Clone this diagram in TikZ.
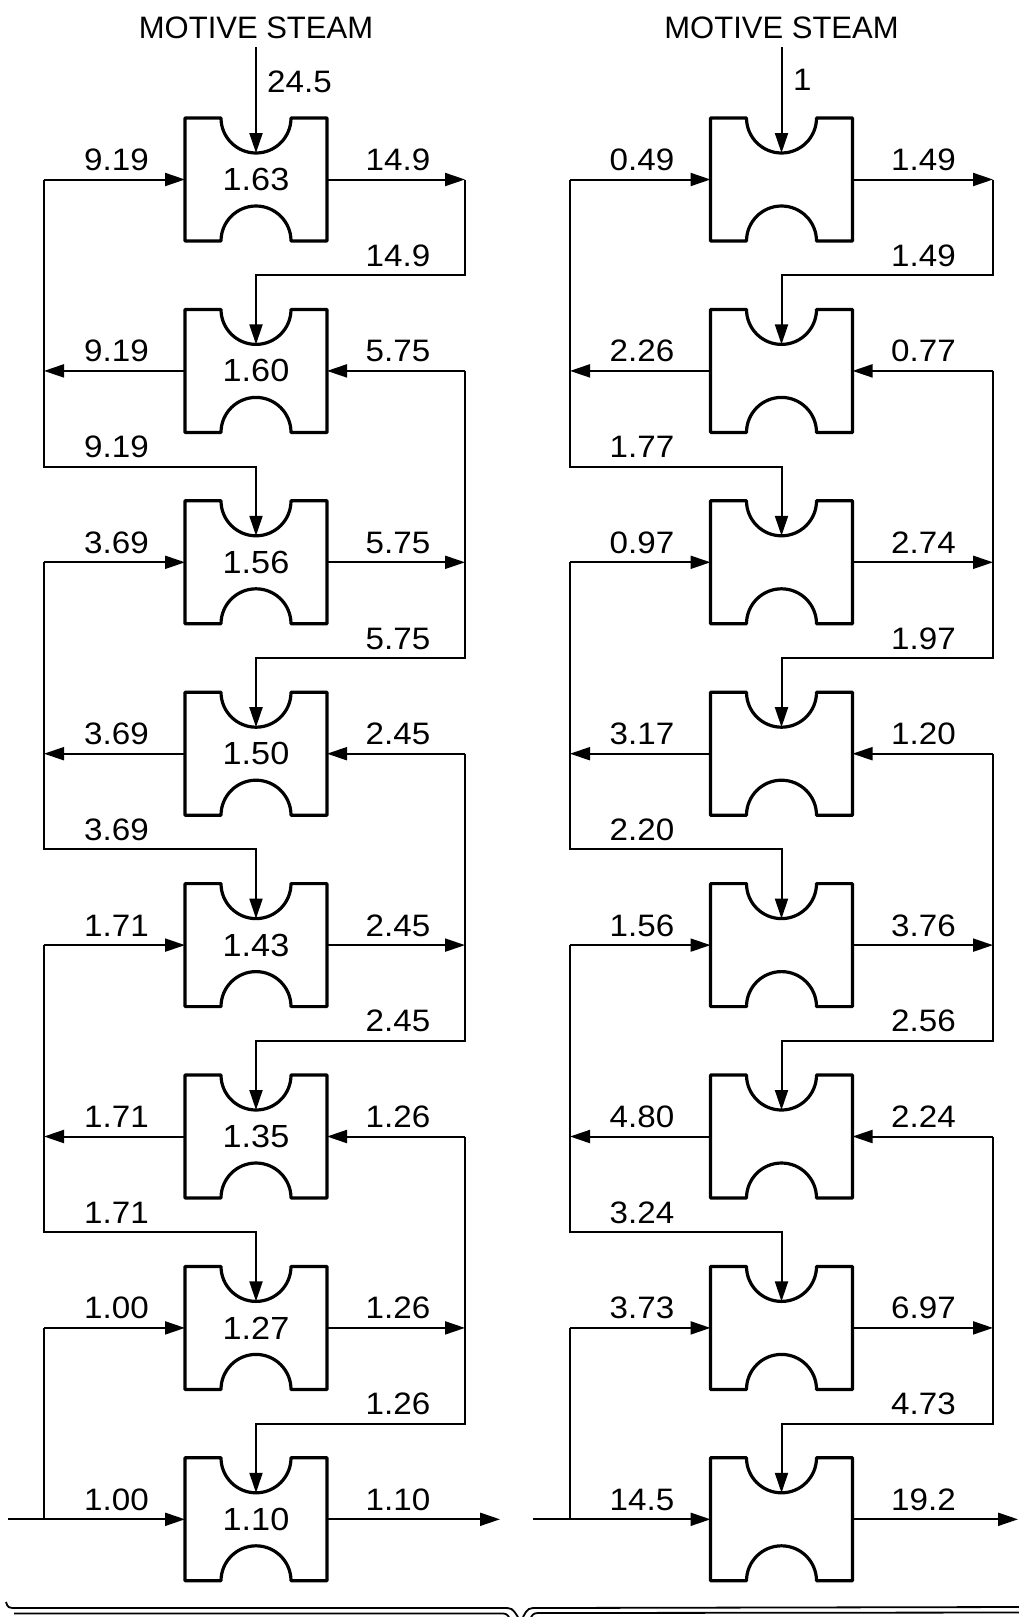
\documentclass[tikz,border=0pt]{standalone}
\usepackage{fontspec}
\setmainfont{Liberation Sans}
\newfontfamily\numfont{Liberation Sans}[FakeStretch=1.07]
\usetikzlibrary{arrows.meta,calc}
\tikzset{
  blk/.style={minimum width=142pt, minimum height=123pt, inner sep=0pt, outer sep=0pt, font=\numfont\fontsize{32}{36}\selectfont},
  blkline/.style={line width=3.2pt, line join=round},
  conn/.style={line width=2pt},
  arr/.style={conn, -{Triangle[length=20pt,width=13pt]}},
  lab/.style={anchor=base, inner sep=0pt, yshift=9pt, font=\numfont\fontsize{31}{36}\selectfont},
  head/.style={anchor=base, inner sep=0pt, font=\fontsize{31}{36}\selectfont},
  bracestroke/.style={line width=1.8pt, line join=round},
}
\newcommand\ejector[3]{%
  \node[blk] (#1) at (#2) {#3};
  \draw[blkline, shift={(#1.center)}] (-71,-61.5) -- (-35,-61.5)
    .. controls (-35,-42.2) and (-19.3,-26.5) .. (0,-26.5)
    .. controls (19.3,-26.5) and (35,-42.2) .. (35,-61.5)
    -- (71,-61.5) -- (71,61.5) -- (35,61.5)
    .. controls (35,42.2) and (19.3,26.5) .. (0,26.5)
    .. controls (-19.3,26.5) and (-35,42.2) .. (-35,61.5)
    -- (-71,61.5) -- cycle;
}
\begin{document}
\begin{tikzpicture}[x=1pt,y=-1pt]
\useasboundingbox (0,0) rectangle (1019,1617);

% ejector blocks
\foreach \i/\y/\t in {1/179.5/1.63, 2/370.9/1.60, 3/562.3/1.56, 4/753.7/1.50, 5/945.1/1.43, 6/1136.5/1.35, 7/1327.9/1.27, 8/1519.3/1.10}{
  \ejector{L\i}{256,\y}{\t}
  \ejector{R\i}{781.5,\y}{}
}

% bus lines and ends
\coordinate (L-bl) at (44,0);
\coordinate (L-br) at (465,0);
\coordinate (L-in) at (8,0);
\coordinate (L-out) at (500,0);
\coordinate (R-bl) at (570,0);
\coordinate (R-br) at (993,0);
\coordinate (R-in) at (533,0);
\coordinate (R-out) at (1018,0);

\foreach \c in {L,R}{
  \foreach \a/\b in {1/2,2/3,3/4,4/5,5/6,6/7,7/8}{
    \coordinate (\c-g\a\b) at ($(\c\a.south)!.5!(\c\b.north)$);
  }
  \foreach \i in {1,3,5,7}{
    \draw[arr] (\c\i.west -| \c-bl) -- (\c\i.west);
    \draw[arr] (\c\i.east) -- (\c\i.east -| \c-br);
  }
  \foreach \i in {2,4,6}{
    \draw[arr] (\c\i.west) -- (\c\i.west -| \c-bl);
    \draw[arr] (\c\i.east -| \c-br) -- (\c\i.east);
  }
  \foreach \s/\g/\n in {1/12/2, 2/34/4, 4/56/6, 6/78/8}{
    \draw[arr] (\c\s.east -| \c-br) -- (\c-g\g -| \c-br) -- (\c-g\g) -- ([yshift=-35pt]\c\n.north);
  }
  \foreach \s/\g/\n in {1/23/3, 3/45/5, 5/67/7}{
    \draw[arr] (\c\s.west -| \c-bl) -- (\c-g\g -| \c-bl) -- (\c-g\g) -- ([yshift=-35pt]\c\n.north);
  }
  \draw[conn] (\c7.west -| \c-bl) -- (\c8.west -| \c-bl);
  \draw[arr] (\c8.west -| \c-in) -- (\c8.west);
  \draw[arr] (\c8.east) -- (\c8.east -| \c-out);
}

% motive steam
\node[head] (msL) at (256,38) {MOTIVE STEAM};
\node[head] (msR) at (781.5,38) {MOTIVE STEAM};
\draw[arr] ([yshift=-9pt]msL.base) -- ([yshift=-35pt]L1.north);
\draw[arr] ([yshift=-9pt]msR.base) -- ([yshift=-35pt]R1.north);
\node[head, font=\numfont\fontsize{31}{36}\selectfont, anchor=base west] (vL) at (267,92) {24.5};
\node[head, font=\numfont\fontsize{31}{36}\selectfont, anchor=base west] (vR) at (793,90) {1};

% side labels
\foreach \i/\a/\b in {1/9.19/14.9, 2/9.19/5.75, 3/3.69/5.75, 4/3.69/2.45, 5/1.71/2.45, 6/1.71/1.26, 7/1.00/1.26, 8/1.00/1.10}{
  \node[lab] (Ll\i) at ([xshift=-139.5pt]L\i.center) {\a};
  \node[lab] (Lr\i) at ([xshift=142pt]L\i.center) {\b};
}
\foreach \i/\a/\b in {1/0.49/1.49, 2/2.26/0.77, 3/0.97/2.74, 4/3.17/1.20, 5/1.56/3.76, 6/4.80/2.24, 7/3.73/6.97, 8/14.5/19.2}{
  \node[lab] (Rl\i) at ([xshift=-139.5pt]R\i.center) {\a};
  \node[lab] (Rr\i) at ([xshift=142pt]R\i.center) {\b};
}
% gap labels
\foreach \g/\s/\t in {12/142/14.9, 23/-139.5/9.19, 34/142/5.75, 45/-139.5/3.69, 56/142/2.45, 67/-139.5/1.71, 78/142/1.26}{
  \node[lab] (Lt\g) at ([xshift=\s pt]L-g\g) {\t};
}
\foreach \g/\s/\t in {12/142/1.49, 23/-139.5/1.77, 34/142/1.97, 45/-139.5/2.20, 56/142/2.56, 67/-139.5/3.24, 78/142/4.73}{
  \node[lab] (Rt\g) at ([xshift=\s pt]R-g\g) {\t};
}

% braces cut off at the bottom edge
\draw[bracestroke] (6,1602) .. controls (8,1608) .. (18,1608) -- (503,1608) .. controls (512,1608) .. (518,1617);
\draw[bracestroke] (14,1613.5) -- (500,1613.5) .. controls (506,1613.5) .. (509,1617);
\draw[bracestroke] (523,1617) .. controls (528,1608) .. (538,1608) -- (1019,1607);
\draw[bracestroke] (531,1617) .. controls (534,1613) .. (542,1613) -- (1019,1612.5);
\end{tikzpicture}
\end{document}
